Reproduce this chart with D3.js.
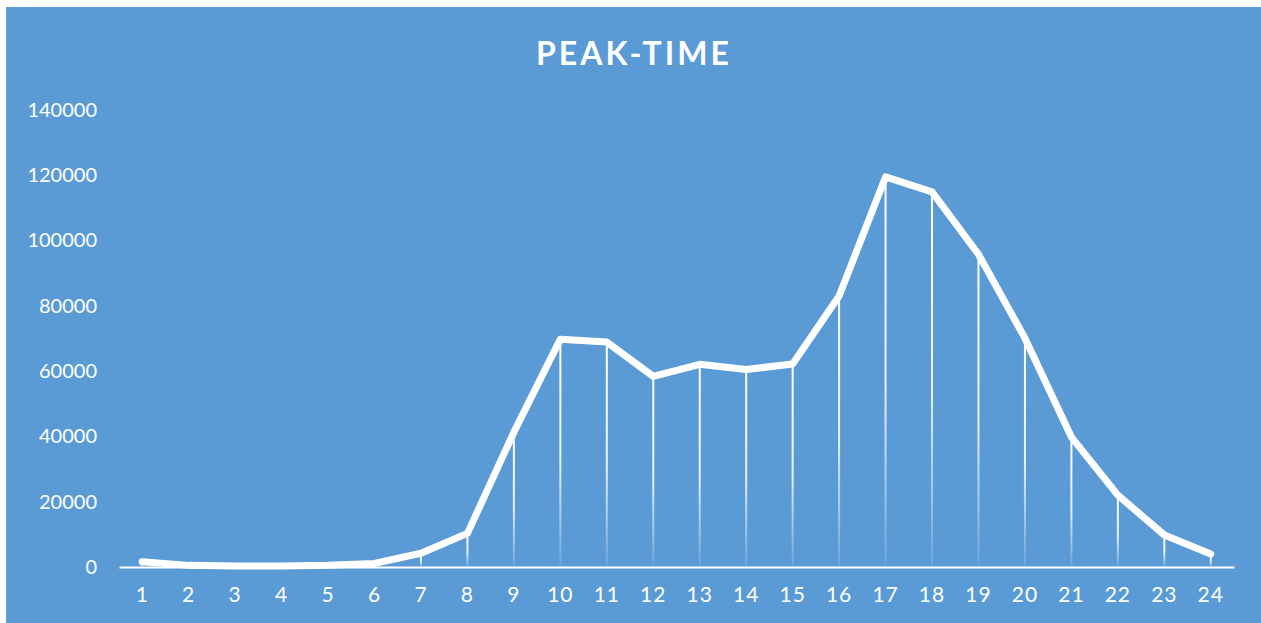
<!DOCTYPE html>
<html lang="en">
<head>
    <meta charset="UTF-8">
    <title>PEAK-TIME</title>
    <script src="https://d3js.org/d3.v7.min.js"></script>
    <style>
        html, body { margin: 0; padding: 0; background: #fff; }
        svg { display: block; }
        text { font-family: Lato, "Open Sans", sans-serif; fill: #fff; }
    </style>
</head>
<body>
<script>
    const hours = d3.range(1, 25).map(String);
    const visits = [1600, 500, 300, 300, 500, 1100, 4200, 10300, 41300, 69800, 68900, 58400,
        62100, 60500, 62200, 83000, 119500, 114900, 95800, 70100, 39800, 22000, 9800, 4000];
    const yTicks = [0, 20000, 40000, 60000, 80000, 100000, 120000, 140000];

    const width = 1261, height = 623;
    const svg = d3.select("body").append("svg").attr("width", width).attr("height", height);

    svg.append("rect").attr("x", 6).attr("y", 7)
        .attr("width", width - 6).attr("height", height - 7)
        .attr("fill", "#5b9bd5");

    const defs = svg.append("defs");
    const grad = defs.append("linearGradient").attr("id", "drop")
        .attr("x1", 0).attr("y1", 0).attr("x2", 0).attr("y2", 1);
    grad.append("stop").attr("offset", "0%").attr("stop-color", "#fff").attr("stop-opacity", 1);
    grad.append("stop").attr("offset", "55%").attr("stop-color", "#fff").attr("stop-opacity", 0.85);
    grad.append("stop").attr("offset", "100%").attr("stop-color", "#fff").attr("stop-opacity", 0.1);

    const x = d3.scaleBand().domain(hours).range([119, 1234]);
    const y = d3.scaleLinear().domain([0, 140000]).range([567, 110]);
    const cx = d => x(d) + x.bandwidth() / 2;

    svg.append("text")
        .attr("x", 634).attr("y", 65)
        .attr("text-anchor", "middle")
        .style("font-size", "32px").style("font-weight", "bold").style("letter-spacing", "3px")
        .text("PEAK-TIME");

    // y axis labels, no line
    const yAxis = svg.append("g").attr("transform", "translate(97,0)")
        .call(d3.axisLeft(y).tickValues(yTicks).tickSize(0).tickPadding(0).tickFormat(d3.format("d")));
    yAxis.select(".domain").remove();
    yAxis.selectAll("text").style("font-size", "20px").attr("fill", "#fff");

    // drop lines
    svg.append("g").selectAll("rect")
        .data(visits)
        .join("rect")
        .attr("x", (d, i) => cx(hours[i]) - 1)
        .attr("y", d => y(d))
        .attr("width", 2)
        .attr("height", d => y(0) - y(d))
        .attr("fill", "url(#drop)");

    // x axis
    const xAxis = svg.append("g").attr("transform", `translate(0,${y(0)})`)
        .call(d3.axisBottom(x).tickSize(0).tickPadding(20));
    xAxis.select(".domain").attr("stroke", "#fff").attr("stroke-width", 2);
    xAxis.selectAll("text").style("font-size", "21px").attr("fill", "#fff").style("letter-spacing", "1px");

    const line = d3.line().x((d, i) => cx(hours[i])).y(d => y(d));
    svg.append("path")
        .datum(visits)
        .attr("d", line)
        .attr("fill", "none")
        .attr("stroke", "#fff")
        .attr("stroke-width", 7)
        .attr("stroke-linecap", "round")
        .attr("stroke-linejoin", "round");
</script>
</body>
</html>
